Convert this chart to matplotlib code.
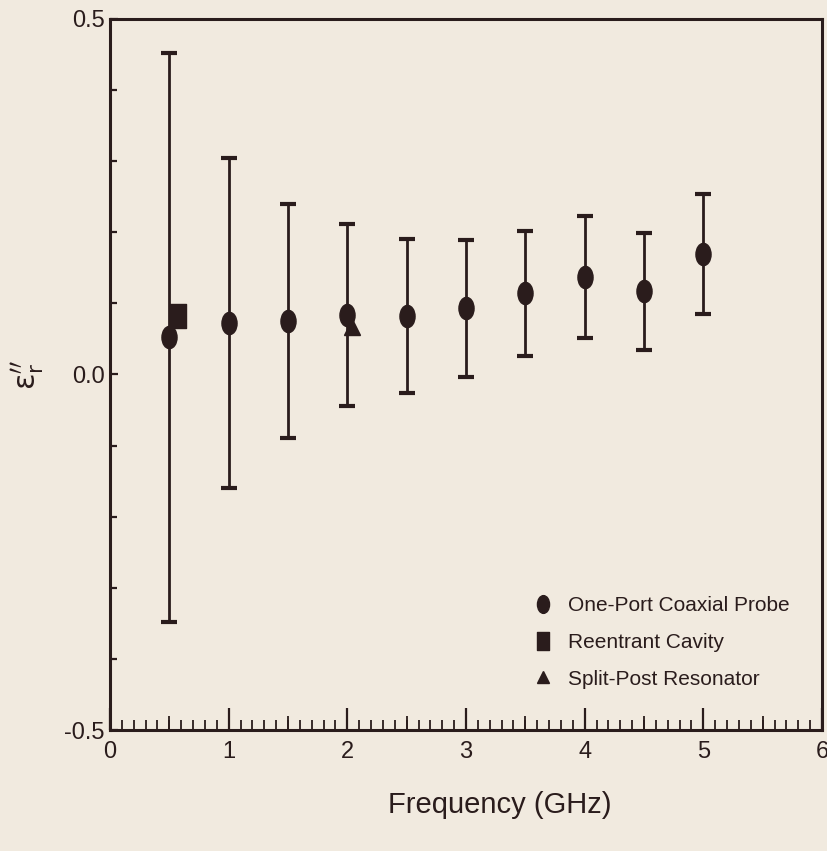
import numpy as np
import matplotlib
matplotlib.use('Agg')
from matplotlib import pyplot as plt
from matplotlib.path import Path
from matplotlib.transforms import Affine2D
from matplotlib.ticker import MultipleLocator, FixedLocator, NullFormatter

# one-port coaxial probe, with uncertainty
freq_probe = [0.5, 1.0, 1.5, 2.0, 2.5, 3.0, 3.5, 4.0, 4.5, 5.0]
eps_probe = [0.052, 0.072, 0.075, 0.084, 0.082, 0.093, 0.114, 0.137, 0.117, 0.169]
err_probe = [0.400, 0.232, 0.164, 0.128, 0.108, 0.096, 0.088, 0.086, 0.082, 0.084]

# reentrant cavity
freq_cavity = [0.57]
eps_cavity = [0.082]

# split-post resonator
freq_split = [2.04]
eps_split = [0.066]

labels = ['One-Port Coaxial Probe', 'Reentrant Cavity', 'Split-Post Resonator']

bg = '#f1eadf'
ink = '#2a1c1c'
plt.rcParams['font.family'] = ['Liberation Sans Narrow', 'Liberation Sans', 'DejaVu Sans']
plt.rcParams['mathtext.fontset'] = 'dejavusans'

# tall ellipse / rectangle markers like the scan
ell = Path.unit_circle().transformed(Affine2D().scale(0.68, 1.0))
rect = Path([(-0.68, -1), (0.68, -1), (0.68, 1), (-0.68, 1), (-0.68, -1)],
            [Path.MOVETO, Path.LINETO, Path.LINETO, Path.LINETO, Path.CLOSEPOLY])

fig = plt.figure(figsize=(8.27, 8.51), dpi=100, facecolor=bg)
ax = fig.add_axes([0.133, 0.142, 0.861, 0.836], facecolor=bg)

ax.errorbar(freq_probe, eps_probe, yerr=err_probe, fmt='none', ecolor=ink,
            elinewidth=2.0, capsize=6, capthick=3.0)
ax.plot(freq_probe, eps_probe, ls='none', marker=ell, ms=16, color=ink, label=labels[0])
ax.plot(freq_cavity, eps_cavity, ls='none', marker=rect, ms=17, color=ink, label=labels[1])
ax.plot(freq_split, eps_split, ls='none', marker='^', ms=11, color=ink, label=labels[2])

ax.set_xlim(0, 6)
ax.set_ylim(-0.5, 0.5)
ax.xaxis.set_major_locator(MultipleLocator(1))
ax.xaxis.set_minor_locator(MultipleLocator(0.1))
ax.yaxis.set_major_locator(FixedLocator([-0.5, 0.0, 0.5]))
ax.yaxis.set_minor_locator(MultipleLocator(0.1))
ax.yaxis.set_major_formatter(plt.FuncFormatter(lambda v, p: '%.1f' % v))

ax.tick_params(axis='x', which='major', direction='in', length=16, width=1.6,
               labelsize=17, pad=8, colors=ink)
ax.tick_params(axis='x', which='minor', direction='in', length=7, width=1.3, colors=ink)
ax.tick_params(axis='y', which='major', direction='in', length=6, width=1.6,
               labelsize=17, pad=4, colors=ink)
ax.tick_params(axis='y', which='minor', direction='in', length=5, width=1.6, colors=ink)

# medium ticks at the half GHz marks
half = ax.secondary_xaxis('bottom')
half.set_xticks([0.5, 1.5, 2.5, 3.5, 4.5, 5.5])
half.xaxis.set_major_formatter(NullFormatter())
half.tick_params(direction='in', length=10, width=1.3, colors=ink)
half.spines['bottom'].set_visible(False)

for s in ax.spines.values():
    s.set_linewidth(2.2)
    s.set_color(ink)

ax.set_xlabel('Frequency (GHz)', fontsize=21, labelpad=12, color=ink)
ax.xaxis.set_label_coords(0.548, -0.085)
ax.set_ylabel(r"$\mathrm{\varepsilon}_\mathrm{r}''$", fontsize=22, labelpad=12, color=ink)

leg = ax.legend(loc='upper left', bbox_to_anchor=(0.582, 0.2), frameon=False,
                fontsize=15, handletextpad=0.7, labelspacing=0.85, markerscale=0.8,
                handlelength=1.0, borderaxespad=0)
for t in leg.get_texts():
    t.set_color(ink)

plt.savefig('out.png', dpi=100, facecolor=bg)
